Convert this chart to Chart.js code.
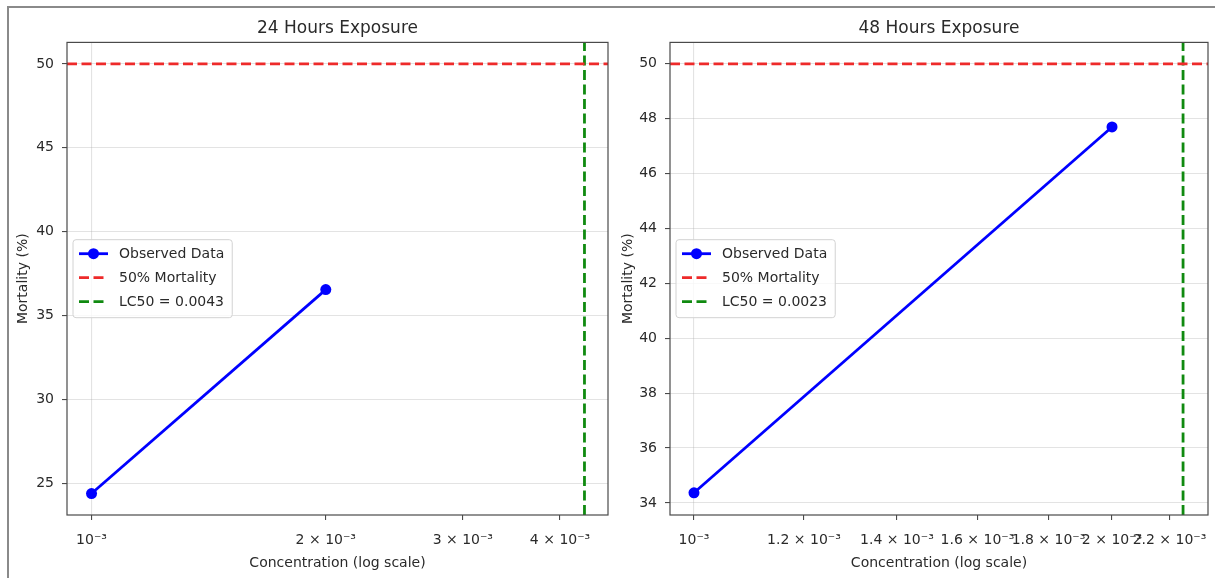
<!DOCTYPE html>
<html>
<head>
<meta charset="utf-8">
<title>Mortality vs concentration</title>
<script src="https://cdn.jsdelivr.net/npm/chart.js@4.4.1/dist/chart.umd.min.js"></script>
<style>
    html, body { margin: 0; padding: 0; background: #fff; }
    #page { position: relative; width: 1215px; height: 578px; overflow: hidden; }
    #frame {
        position: absolute; left: 7px; top: 6px; width: 1240px; height: 600px;
        border-left: 2px solid #8a8a8a; border-top: 2px solid #8a8a8a;
    }
    canvas { position: absolute; top: 0; }
    #chart24 { left: 0; }
    #chart48 { left: 603px; }
</style>
</head>
<body>
<div id="page">
    <div id="frame"></div>
    <canvas id="chart24" width="615" height="578"></canvas>
    <canvas id="chart48" width="612" height="578"></canvas>
</div>
<script>
// --- data ---
const conc24 = [0.001, 0.002];
const mort24 = [24.4, 36.55];
const lc50_24 = 0.0043;
const lc50Label24 = 'LC50 = 0.0043';

const conc48 = [0.001, 0.002];
const mort48 = [34.37, 47.7];
const lc50_48 = 0.00225;
const lc50Label48 = 'LC50 = 0.0023';

const mortality50 = 50;

// ticks
const xTicks24 = [0.001, 0.002, 0.003, 0.004];
const xTickLabels24 = ['10⁻³', '2 × 10⁻³', '3 × 10⁻³', '4 × 10⁻³'];
const yTicks24 = [25, 30, 35, 40, 45, 50];

const xTicks48 = [0.001, 0.0012, 0.0014, 0.0016, 0.0018, 0.002, 0.0022];
const xTickLabels48 = ['10⁻³', '1.2 × 10⁻³', '1.4 × 10⁻³', '1.6 × 10⁻³', '1.8 × 10⁻³', '2 × 10⁻³', '2.2 × 10⁻³'];
const yTicks48 = [34, 36, 38, 40, 42, 44, 46, 48, 50];

// axis limits (matplotlib autoscale with 5% margins)
const xRange24 = [0.00093, 0.00461];
const yRange24 = [23.12, 51.28];
const xRange48 = [0.000961, 0.002345];
const yRange48 = [33.56, 50.78];

Chart.defaults.font.family = "'DejaVu Sans', sans-serif";
Chart.defaults.color = '#262626';

const textColor = '#2a2a2a';
const axisLine = '#4a4a4a';
const gridLine = 'rgba(176,176,176,0.35)';

// box around the plot area, like the matplotlib spines
const framePlugin = {
    id: 'frame',
    afterDatasetsDraw(chart) {
        const a = chart.chartArea;
        const ctx = chart.ctx;
        ctx.save();
        ctx.strokeStyle = axisLine;
        ctx.lineWidth = 1.2;
        ctx.strokeRect(a.left, a.top, a.right - a.left, a.bottom - a.top);
        ctx.restore();
    }
};

// legend inside the axes, centre left
const innerLegend = {
    id: 'innerLegend',
    afterDraw(chart) {
        const a = chart.chartArea;
        const ctx = chart.ctx;
        const sets = chart.data.datasets;
        ctx.save();
        ctx.font = "14px 'DejaVu Sans'";
        const textW = Math.max(...sets.map(d => ctx.measureText(d.label).width));
        const w = 46 + textW + 8;
        const h = 78;
        const x0 = a.left + 6;
        const y0 = (a.top + a.bottom) / 2 - h / 2;

        ctx.beginPath();
        if (ctx.roundRect) ctx.roundRect(x0, y0, w, h, 3);
        else ctx.rect(x0, y0, w, h);
        ctx.fillStyle = 'rgba(255,255,255,0.8)';
        ctx.fill();
        ctx.strokeStyle = '#d2d2d2';
        ctx.lineWidth = 1;
        ctx.stroke();

        sets.forEach((d, i) => {
            const y = y0 + 14 + i * 24;
            ctx.beginPath();
            ctx.setLineDash(d.borderDash || []);
            ctx.strokeStyle = d.borderColor;
            ctx.lineWidth = d.borderWidth;
            ctx.moveTo(x0 + 6, y);
            ctx.lineTo(x0 + 35, y);
            ctx.stroke();
            ctx.setLineDash([]);
            if (d.pointRadius > 0) {
                ctx.beginPath();
                ctx.arc(x0 + 20.5, y, d.pointRadius, 0, Math.PI * 2);
                ctx.fillStyle = d.pointBackgroundColor;
                ctx.fill();
            }
            ctx.fillStyle = textColor;
            ctx.textBaseline = 'middle';
            ctx.textAlign = 'left';
            ctx.fillText(d.label, x0 + 46, y + 1);
        });
        ctx.restore();
    }
};

function makeChart(id, p) {
    const observed = p.conc.map((c, i) => ({ x: c, y: p.mort[i] }));
    return new Chart(document.getElementById(id), {
        type: 'scatter',
        data: {
            datasets: [
                {
                    label: 'Observed Data',
                    data: observed,
                    showLine: true,
                    borderColor: '#0000ff',
                    backgroundColor: '#0000ff',
                    pointBackgroundColor: '#0000ff',
                    borderWidth: 2.8,
                    pointRadius: 5.5,
                    pointBorderWidth: 0
                },
                {
                    label: '50% Mortality',
                    data: [{ x: p.xRange[0], y: mortality50 }, { x: p.xRange[1], y: mortality50 }],
                    showLine: true,
                    borderColor: '#ee2a2a',
                    borderWidth: 2.8,
                    borderDash: [10, 4.5],
                    pointRadius: 0
                },
                {
                    label: p.lcLabel,
                    data: [{ x: p.lc50, y: p.yRange[0] }, { x: p.lc50, y: p.yRange[1] }],
                    showLine: true,
                    borderColor: '#108a10',
                    borderWidth: 2.8,
                    borderDash: [10, 4.5],
                    pointRadius: 0
                }
            ]
        },
        options: {
            responsive: false,
            animation: false,
            layout: { padding: { left: 0, right: 7, top: 0, bottom: 0 } },
            plugins: {
                legend: { display: false },
                tooltip: { enabled: false },
                title: {
                    display: true,
                    text: p.title,
                    fullSize: false,
                    color: textColor,
                    font: { size: 17, weight: 'normal' },
                    padding: { top: 18, bottom: 4 }
                }
            },
            scales: {
                x: {
                    type: 'logarithmic',
                    min: p.xRange[0],
                    max: p.xRange[1],
                    afterBuildTicks: s => { s.ticks = p.xTicks.map(v => ({ value: v })); },
                    afterFit: s => { s.height = 63; s.paddingLeft = 0; s.paddingRight = 0; },
                    ticks: {
                        autoSkip: false,
                        maxRotation: 0,
                        minRotation: 0,
                        padding: 12,
                        color: textColor,
                        font: { size: 14 },
                        callback: (v, i) => p.xLabels[i]
                    },
                    // only 10^-3 is a major tick, so only it gets a grid line
                    grid: {
                        color: c => c.index === 0 ? gridLine : 'rgba(0,0,0,0)',
                        tickColor: axisLine,
                        tickLength: 5,
                        lineWidth: 1.1
                    },
                    border: { display: false },
                    title: {
                        display: true,
                        text: 'Concentration (log scale)',
                        color: textColor,
                        font: { size: 14 },
                        padding: { top: 0, bottom: 6 }
                    }
                },
                y: {
                    type: 'linear',
                    min: p.yRange[0],
                    max: p.yRange[1],
                    afterBuildTicks: s => { s.ticks = p.yTicks.map(v => ({ value: v })); },
                    afterFit: s => { s.width = 67; s.paddingTop = 0; s.paddingBottom = 0; },
                    ticks: {
                        padding: 8,
                        color: textColor,
                        font: { size: 14 },
                        callback: v => String(v)
                    },
                    grid: {
                        color: gridLine,
                        tickColor: axisLine,
                        tickLength: 5,
                        lineWidth: 1.1
                    },
                    border: { display: false },
                    title: {
                        display: true,
                        text: 'Mortality (%)',
                        color: textColor,
                        font: { size: 14 },
                        padding: { top: p.yTitlePad, bottom: 0 }
                    }
                }
            }
        },
        plugins: [framePlugin, innerLegend]
    });
}

makeChart('chart24', {
    title: '24 Hours Exposure',
    conc: conc24, mort: mort24,
    lc50: lc50_24, lcLabel: lc50Label24,
    xTicks: xTicks24, xLabels: xTickLabels24, yTicks: yTicks24,
    xRange: xRange24, yRange: yRange24,
    yTitlePad: 15
});

makeChart('chart48', {
    title: '48 Hours Exposure',
    conc: conc48, mort: mort48,
    lc50: lc50_48, lcLabel: lc50Label48,
    xTicks: xTicks48, xLabels: xTickLabels48, yTicks: yTicks48,
    xRange: xRange48, yRange: yRange48,
    yTitlePad: 17
});
</script>
</body>
</html>
